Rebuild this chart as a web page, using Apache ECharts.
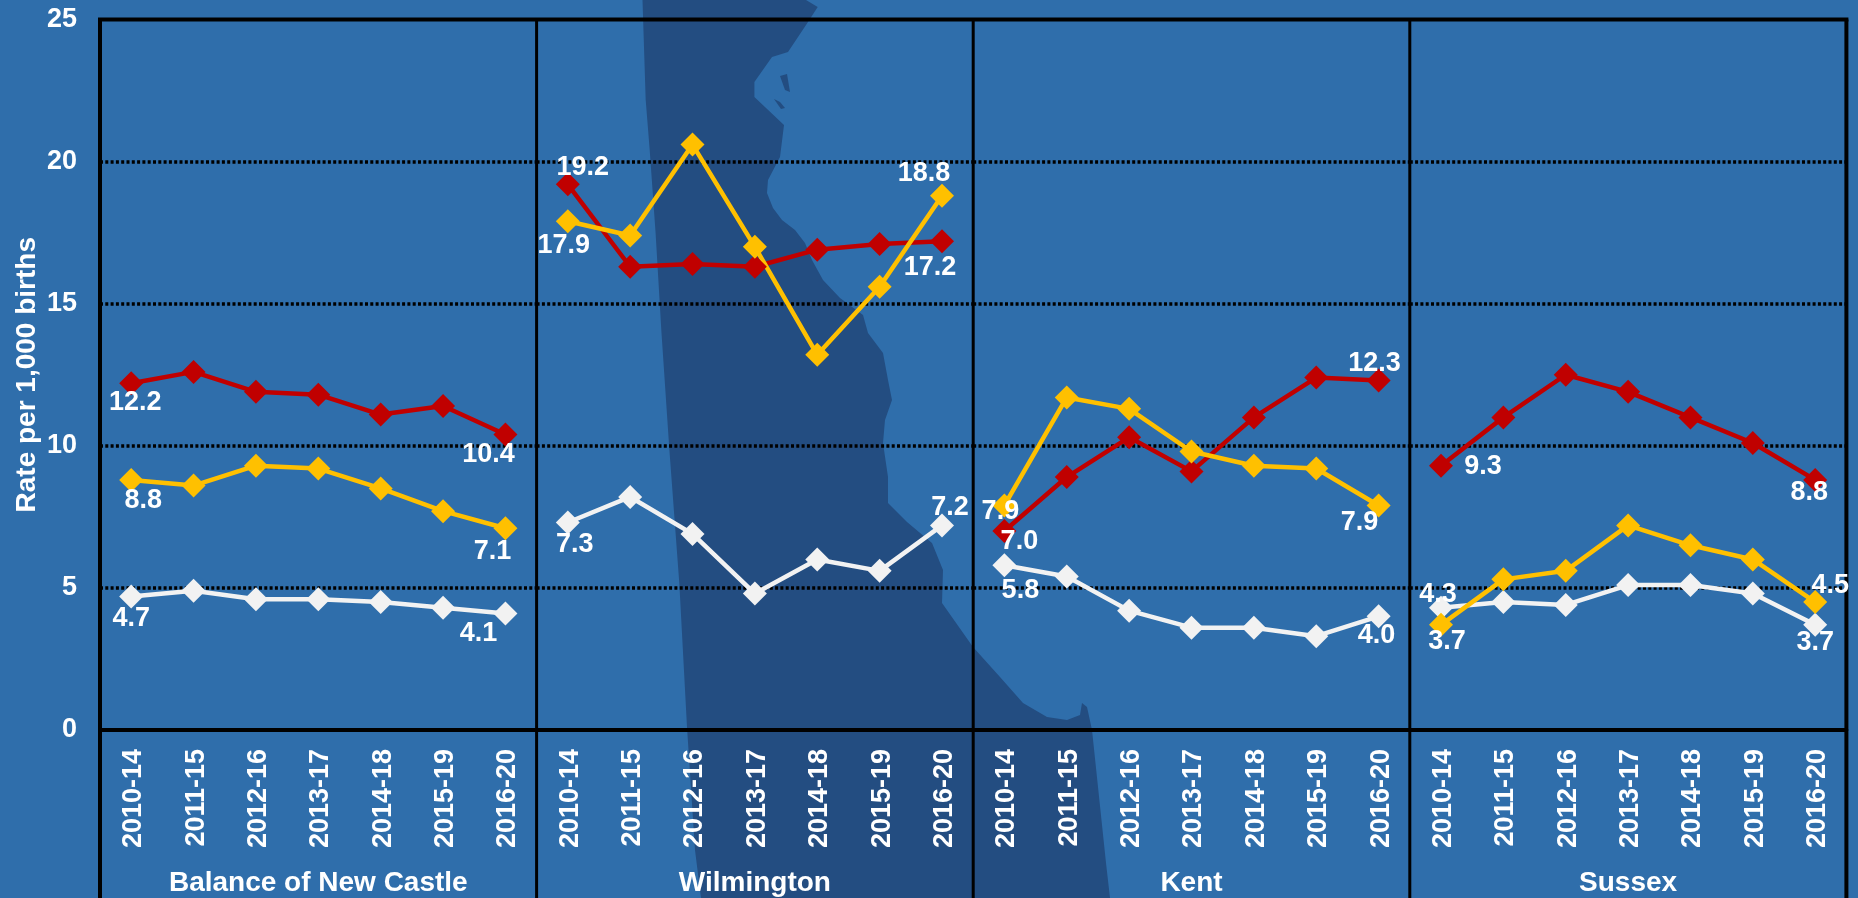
<!DOCTYPE html>
<html><head><meta charset="utf-8">
<style>html,body{margin:0;padding:0;background:#2F6EAB}#c{width:1858px;height:898px}</style>
<script src="https://cdn.jsdelivr.net/npm/echarts@6/dist/echarts.min.js"></script>
</head><body><div id="c"></div>
<script>
const periods = ['2010-14','2011-15','2012-16','2013-17','2014-18','2015-19','2016-20'];
const regions = ['Balance of New Castle','Wilmington','Kent','Sussex'];
const redValues = [
  [12.2,12.6,11.9,11.8,11.1,11.4,10.4],
  [19.2,16.3,16.4,16.3,16.9,17.1,17.2],
  [7.0,8.9,10.3,9.1,11.0,12.4,12.3],
  [9.3,11.0,12.5,11.9,11.0,10.1,8.8]
];
const goldValues = [
  [8.8,8.6,9.3,9.2,8.5,7.7,7.1],
  [17.9,17.4,20.6,17.0,13.2,15.6,18.8],
  [7.9,11.7,11.3,9.8,9.3,9.2,7.9],
  [3.7,5.3,5.6,7.2,6.5,6.0,4.5]
];
const whiteValues = [
  [4.7,4.9,4.6,4.6,4.5,4.3,4.1],
  [7.3,8.2,6.9,4.8,6.0,5.6,7.2],
  [5.8,5.4,4.2,3.6,3.6,3.3,4.0],
  [4.3,4.5,4.4,5.1,5.1,4.8,3.7]
];
const yTicks = {min:0,max:25,interval:5};

// label offsets (first point, last point) per region, kept apart from the values
const redOffsets   = [[[4,19],[-17,20]],[[15,-17],[-12,26]],[[15,10],[-4,-17]],[[42,1],[-6,13]]];
const goldOffsets  = [[[12,21],[-13,23]],[[-4,24],[-18,-22]],[[-4,6],[-19,17]],[[6,17],[15,-17]]];
const whiteOffsets = [[[0,22],[-27,20]],[[7,22],[8,-18]],[[16,25],[-2,19]],[[-3,-13],[0,18]]];

const FONT = '"Liberation Sans", Arial, sans-serif';
const LEFT = 100, TOP = 19.5, PANEL_W = 436.6, PANEL_H = 710.5;
const BG = '#2F6EAB', DARK = '#234D81', RED = '#C00000', GOLD = '#FFC000', WHITE = '#F2F2F2', TXT = '#FFFFFF';

const silhouette = [[642.5,0],[645.7,100],[649.7,150],[655.6,233],[661.5,333],[669.4,450],[679.3,583],[687,727],[695,850],[701,898],
 [1110,898],[1106,863],[1092,730],[1087,707],[1082,703],[1080,715],[1067,720],[1047,717],[1023,703],[1000,677],[973,647],[942,603],[943,570],[932,543],[907,522],[888,503],[888,477],[883,443],[885,420],[892,400],[888,380],[883,353],[868,333],[863,315],[840,298],[823,280],[812,260],[805,243],[795,230],[782,220],[773,208],[767,193],[768,180],[780,157],[784,125],[754.4,97],[754.4,82],[772,57],[788,52],[808,22],[817.7,7],[806,0]];
const islands = [[[780,76],[787,74],[790,92],[785,90]],[[774,99],[780,102],[785,108],[781,109]]];

function makeSeries(name, color, vals, offs, i){
  return {
    name, type:'line', xAxisIndex:i, yAxisIndex:i, symbol:'diamond', symbolSize:24, showSymbol:true,
    lineStyle:{color,width:4.5}, itemStyle:{color}, animation:false, silent:true,
    data: vals.map((v,j)=>{
      const k = j===0?0:(j===vals.length-1?1:-1);
      if(k<0) return {value:v};
      return {value:v,label:{show:true,position:'inside',align:'center',verticalAlign:'middle',
        offset:offs[k],formatter:v.toFixed(1),color:TXT,fontFamily:FONT,fontWeight:'bold',fontSize:27,textBorderWidth:0}};
    })
  };
}
const tickRich = {t:{color:TXT,fontFamily:FONT,fontWeight:'bold',fontSize:27,padding:[5,0,0,0]}};
const grids=[],xAxes=[],yAxes=[],series=[];
regions.forEach((r,i)=>{
  grids.push({left:LEFT+i*PANEL_W,top:TOP,width:PANEL_W,height:PANEL_H,show:false,containLabel:false,outerBoundsMode:'none'});
  xAxes.push({type:'category',gridIndex:i,data:periods,boundaryGap:true,
    axisLine:{show:true,onZero:false,lineStyle:{color:'#000',width:4}},axisTick:{show:false},
    axisLabel:{rotate:90,margin:19,color:TXT,fontFamily:FONT,fontWeight:'bold',fontSize:27,interval:0,
      formatter:'{t|{value}}',rich:tickRich},
    name:r,nameLocation:'middle',nameGap:153,
    nameTextStyle:{color:TXT,fontFamily:FONT,fontWeight:'bold',fontSize:28,verticalAlign:'middle'}});
  yAxes.push({type:'value',gridIndex:i,min:yTicks.min,max:yTicks.max,interval:yTicks.interval,
    axisLine:{show:false},axisTick:{show:false},
    axisLabel:{show:i===0,margin:23,color:TXT,fontFamily:FONT,fontWeight:'bold',fontSize:27},
    splitLine:{show:true,showMinLine:false,showMaxLine:false,lineStyle:{color:'#000',width:3.5,type:[3,2.3]}},
    name:i===0?'Rate per 1,000 births':'',nameLocation:'middle',nameGap:73,nameRotate:90,
    nameTextStyle:{color:TXT,fontFamily:FONT,fontWeight:'bold',fontSize:28,verticalAlign:'middle'}});
  series.push(makeSeries('White',WHITE,whiteValues[i],whiteOffsets[i],i));
  series.push(makeSeries('Red',RED,redValues[i],redOffsets[i],i));
  series.push(makeSeries('Gold',GOLD,goldValues[i],goldOffsets[i],i));
});

const frame = {color:'#000',width:4};
const graphics = [
  {type:'polygon',z:-10,silent:true,shape:{points:silhouette},style:{fill:DARK}},
  ...islands.map(p=>({type:'polygon',z:-9,silent:true,shape:{points:p},style:{fill:DARK}})),
  {type:'line',z:1,silent:true,shape:{x1:LEFT-2,y1:TOP,x2:LEFT+4*PANEL_W+2,y2:TOP},style:{stroke:frame.color,lineWidth:frame.width}},
];
for(let i=0;i<=4;i++){
  graphics.push({type:'line',z:1,silent:true,shape:{x1:LEFT+i*PANEL_W,y1:TOP,x2:LEFT+i*PANEL_W,y2:898},style:{stroke:frame.color,lineWidth:frame.width-(i===0||i===4?0:1)}});
}
const chart = echarts.init(document.getElementById('c'),null,{renderer:'canvas'});
chart.setOption({backgroundColor:BG,animation:false,grid:grids,xAxis:xAxes,yAxis:yAxes,series,graphic:{elements:graphics}});
</script></body></html>
